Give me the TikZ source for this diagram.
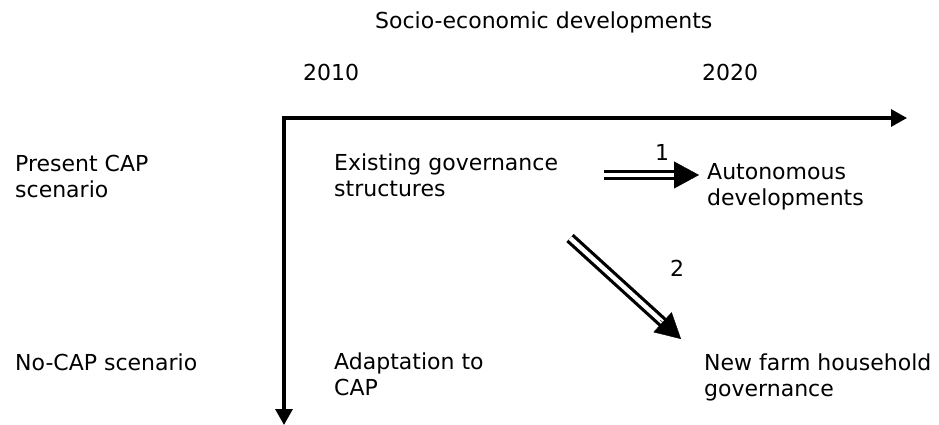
\documentclass[tikz,border=0pt]{standalone}
\usepackage{fontspec}
\setmainfont{DejaVu Sans}
\usetikzlibrary{arrows.meta,calc}
\begin{document}
\begin{tikzpicture}[x=1pt,y=-1pt,
  lbl/.style={anchor=base west,inner sep=0pt,align=left,
    font=\fontsize{22}{25.5}\selectfont},
  axis/.style={line width=3.2pt,{Triangle[length=16pt,width=17pt]}-{Triangle[length=16pt,width=17pt]}},
  dblline/.style={line width=3.2pt,double distance=4.5pt,line cap=butt},
  headtip/.style={line width=0.4pt,-{Triangle[length=25pt,width=27pt]}}]
\useasboundingbox (0,0) rectangle (939,425);
% titles
\node[lbl] (title) at (375,29) {Socio-economic developments};
\node[lbl] (y2010) at (303,81) {2010};
\node[lbl] (y2020) at (702,81) {2020};
% axes
\coordinate (corner) at (284,118);
\coordinate (hend) at (907,118);
\coordinate (vend) at (284,425);
\draw[axis] (vend) -- (corner) -- (hend);
% row labels (base = last line)
\node[lbl] (present) at (15,197) {Present CAP\\scenario};
\node[lbl] (nocap) at (15,370) {No-CAP scenario};
% cells
\node[lbl] (exist) at (334,196) {Existing governance\\structures};
\node[lbl] (auto) at (707,205) {Autonomous\\developments};
\node[lbl] (adapt) at (334,395) {Adaptation to\\CAP};
\node[lbl] (newfarm) at (704,396) {New farm household\\governance};
% arrow 1
\coordinate (a1s) at (604,175);
\coordinate (a1e) at (699,175);
\draw[dblline] (a1s) -- ($(a1e)!21pt!(a1s)$);
\draw[headtip] ($(a1e)!25pt!(a1s)$) -- (a1e);
\node[font=\fontsize{22}{26}\selectfont,inner sep=0pt] (n1) at (662,152) {1};
% arrow 2
\coordinate (a2s) at (570,238);
\coordinate (a2e) at (681,339);
\draw[dblline] (a2s) -- ($(a2e)!21pt!(a2s)$);
\draw[headtip] ($(a2e)!28pt!(a2s)$) -- (a2e);
\node[font=\fontsize{22}{26}\selectfont,inner sep=0pt] (n2) at (677,268) {2};
\end{tikzpicture}
\end{document}
